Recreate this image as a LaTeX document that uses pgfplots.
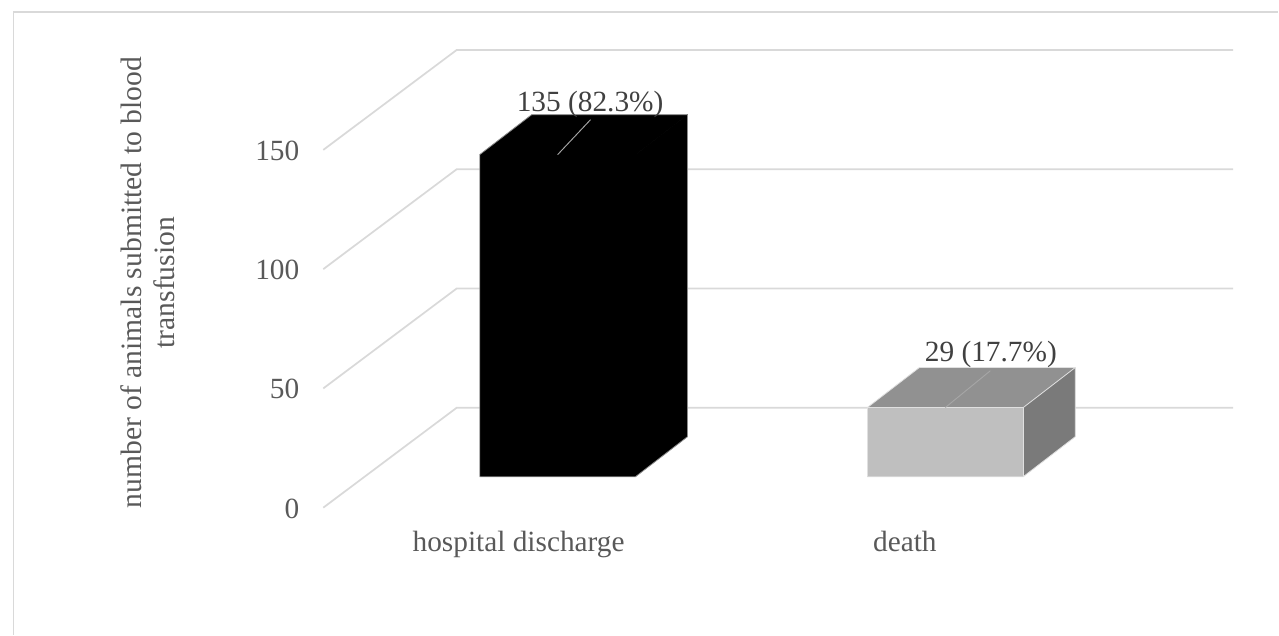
\documentclass[border=0pt]{standalone}
\usepackage{fontspec}
\setmainfont{Liberation Serif}
\usepackage{pgfplots}
\pgfplotsset{compat=1.18}
\definecolor{gridgray}{HTML}{D9D9D9}
\definecolor{ticktext}{HTML}{595959}
\definecolor{valuetext}{HTML}{404040}
\definecolor{leader}{HTML}{A6A6A6}

% A bar in oblique projection: left edge, value, front/top/side fills,
% outer outline, inner edges.
% The tables list corners of a unit box: w = across, h = up, d = into the depth.
\newcommand{\boxbar}[7]{%
  \addplot[fill=#3,draw=none,forget plot] table[
    x expr={#1+156*\thisrow{w}},
    y expr={13+#2*\thisrow{h}},row sep=\\]
    {w h\\ 0 0\\ 1 0\\ 1 1\\ 0 1\\} -- cycle;
  \addplot[fill=#4,draw=none,forget plot] table[
    x expr={#1+156*\thisrow{w}+52*\thisrow{d}},
    y expr={13+#2+16.76*\thisrow{d}},row sep=\\]
    {w d\\ 0 0\\ 1 0\\ 1 1\\ 0 1\\} -- cycle;
  \addplot[fill=#5,draw=none,forget plot] table[
    x expr={#1+156+52*\thisrow{d}},
    y expr={13+#2*\thisrow{h}+16.76*\thisrow{d}},row sep=\\]
    {d h\\ 0 0\\ 1 0\\ 1 1\\ 0 1\\} -- cycle;
  \addplot[draw=#7,line width=0.6pt,forget plot] table[
    x expr={#1+156*\thisrow{w}+52*\thisrow{d}},
    y expr={13+#2*\thisrow{h}+16.76*\thisrow{d}},row sep=\\]
    {w h d\\ 0 1 0\\ 1 1 0\\ 1 0 0\\} ;
  \addplot[draw=#7,line width=0.6pt,forget plot] table[
    x expr={#1+156*\thisrow{w}+52*\thisrow{d}},
    y expr={13+#2*\thisrow{h}+16.76*\thisrow{d}},row sep=\\]
    {w h d\\ 1 1 0\\ 1 1 1\\} ;
  \addplot[draw=#6,line width=0.6pt,forget plot] table[
    x expr={#1+156*\thisrow{w}+52*\thisrow{d}},
    y expr={13+#2*\thisrow{h}+16.76*\thisrow{d}},row sep=\\]
    {w h d\\ 0 0 0\\ 1 0 0\\ 1 0 1\\ 1 1 1\\ 0 1 1\\ 0 1 0\\ 0 0 0\\} ;
}

\begin{document}
\begin{tikzpicture}
\begin{axis}[
  scale only axis,
  width=682.875pt,
  height=268.5pt,
  xmin=323.5, xmax=1234,
  ymin=0, ymax=150,
  clip=false,
  axis line style={draw=none},
  major tick length=0pt,
  ytick={0,50,100,150},
  xtick={519,905.5},
  xticklabels={hospital discharge,death},
  /pgf/number format/assume math mode=true,
  tick label style={font=\fontsize{22}{26}\selectfont,text=ticktext},
  yticklabel style={anchor=east,inner sep=0pt,xshift=-17.8pt,yshift=-0.7pt},
  xticklabel style={anchor=base,inner sep=0pt,yshift=-32.8pt},
  ylabel={number of animals submitted to blood\\transfusion},
  every axis y label/.style={
    at={(axis cs:147.5,94.3)},anchor=center,rotate=90,align=center,
    font=\fontsize{22.2}{24.7}\selectfont,text=ticktext},
]
  % outer bounds and chart frame
  \path (axis cs:0,-53.2) rectangle (axis cs:1279,212.85);
  \draw[gridgray,line width=1.3pt]
    (axis cs:13.5,-53.2) -- (axis cs:13.5,207.95) -- (axis cs:1279,207.95);

  % floor and back-wall gridlines
  \addplot[gridgray,line width=1.3pt,forget plot] coordinates {(323.5,0) (457,41.9) (1234,41.9)};
  \addplot[gridgray,line width=1.3pt,forget plot] coordinates {(323.5,50) (457,91.9) (1234,91.9)};
  \addplot[gridgray,line width=1.3pt,forget plot] coordinates {(323.5,100) (457,141.9) (1234,141.9)};
  \addplot[gridgray,line width=1.3pt,forget plot] coordinates {(323.5,150) (457,191.9) (1234,191.9)};

  % bars
  \boxbar{480}{135}{black}{black}{black}{black!45}{black}
  \boxbar{868}{29}{black!25}{black!43}{black!52}{black!12}{black!12}

  % leader lines to the value labels
  \addplot[leader,line width=0.7pt,forget plot] coordinates {(558,148) (591,162.7)};
  \addplot[leader,line width=0.7pt,forget plot] coordinates {(946,42) (991,57.4)};

  % value labels
  \node[anchor=base,inner sep=0pt,text=valuetext,font=\fontsize{22}{26}\selectfont]
    at (axis cs:590.5,166) {135 (82.3\%)};
  \node[anchor=base,inner sep=0pt,text=valuetext,font=\fontsize{22}{26}\selectfont]
    at (axis cs:991.5,61.3) {29 (17.7\%)};
\end{axis}
\end{tikzpicture}
\end{document}
